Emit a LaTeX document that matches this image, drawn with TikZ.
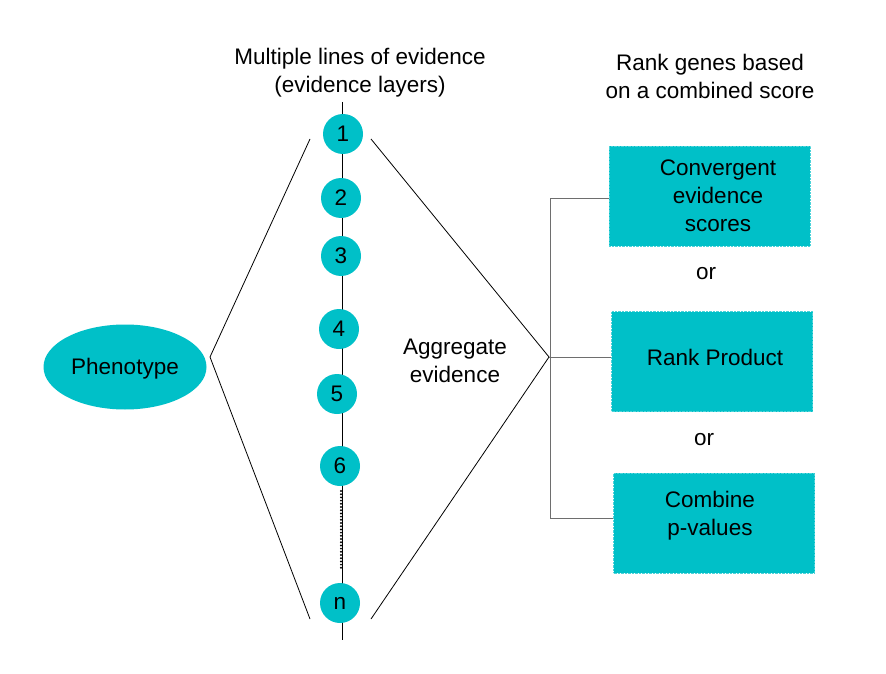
\documentclass[tikz,border=0pt]{standalone}
\usepackage{fontspec}
\setmainfont{Liberation Sans}
\usetikzlibrary{shapes.geometric}
\definecolor{teal1}{RGB}{0,192,200}
\definecolor{linegray}{RGB}{110,110,110}
\begin{document}
\begin{tikzpicture}[x=1pt,y=-1pt,
  txt/.style={font=\fontsize{22.5}{28}\selectfont, align=center, inner sep=0pt},
  layer/.style={circle, fill=teal1, minimum size=40pt, inner sep=0pt, font=\fontsize{22.5}{28}\selectfont},
  method/.style={rectangle, fill=teal1, draw=teal1!70!white, densely dotted, line width=0.4pt, minimum width=201pt, minimum height=100pt, inner sep=0pt},
  thin/.style={line width=0.8pt, black},
  beads/.style={line width=2.2pt, line cap=round, dash pattern=on 0pt off 3.2pt},
  grayline/.style={line width=1pt, linegray}]
\useasboundingbox (0,0) rectangle (886,674);
\fill[white] (0,0) rectangle (886,674);

% central axis
\coordinate (axtop) at (342,102);
\coordinate (axbot) at (342,640);
\coordinate (dotA) at (341,491);
\coordinate (dotB) at (341,568);
\draw[thin] (axtop) -- (axbot);
\draw[beads] (dotA) -- (dotB);

% layers
\node[layer] (l1) at (343,134) {1};
\node[layer] (l2) at (341,198) {2};
\node[layer] (l3) at (341,256) {3};
\node[layer] (l4) at (339,329) {4};
\node[layer] (l5) at (337,394) {5};
\node[layer] (l6) at (340,466) {6};
\node[layer] (ln) at (340,603) {n};

% phenotype
\node[ellipse, fill=teal1, minimum width=163pt, minimum height=85pt, inner sep=0pt, txt] (ph) at (125,367) {};
\node[txt] (phl) at (125,369) {Phenotype};

% brackets
\coordinate (ltop) at (310,139);
\coordinate (lbot) at (310,619);
\coordinate (lap) at (210,357);
\coordinate (rtop) at (371,139);
\coordinate (rbot) at (371,619);
\coordinate (rap) at (549,357);
\draw[thin] (ltop) -- (lap) -- (lbot);
\draw[thin] (rtop) -- (rap) -- (rbot);

% method boxes
\node[method] (m1) at (709.5,196) {};
\node[method] (m2) at (712,361.5) {};
\node[method] (m3) at (714,523) {};
\node[txt] at (718,196) {Convergent\\evidence\\scores};
\node[txt] at (715,357) {Rank Product};
\node[txt] at (710,516) {Combine\\p-values};

% right connector
\coordinate (vt) at (550,198);
\coordinate (vb) at (550,518);
\draw[grayline] (m1.west |- vt) -- (vt) -- (vb) -- (m3.west |- vb);
\draw[grayline] (rap) -- (m2.west |- rap);

% labels
\node[txt] (or1) at (706,274) {or};
\node[txt] (or2) at (704,440) {or};
\node[txt] (agg) at (455,361) {Aggregate\\evidence};
\node[txt] (hdl) at (360,73) {Multiple lines of evidence\\(evidence layers)};
\node[txt] (hdr) at (710,76) {Rank genes based\\on a combined score};
\end{tikzpicture}
\end{document}
